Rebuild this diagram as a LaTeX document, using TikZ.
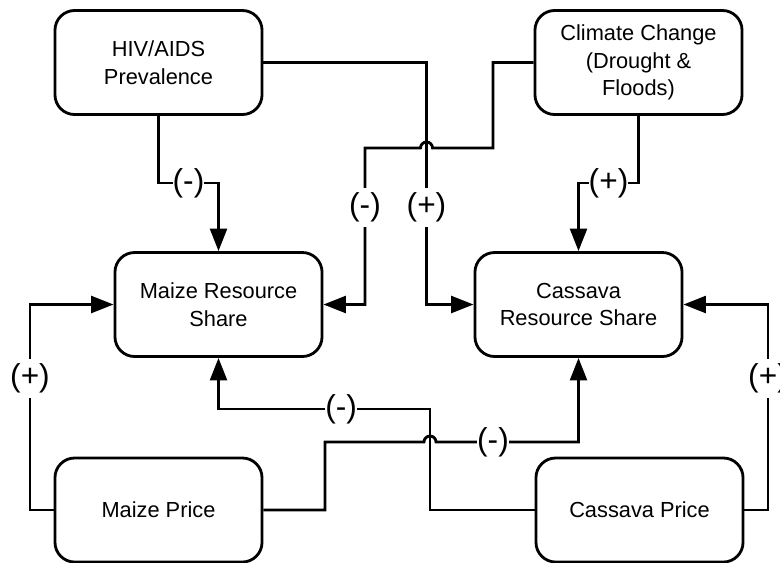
\documentclass[tikz,border=0pt]{standalone}
\usepackage{fontspec}
\setmainfont{Liberation Sans}
\usetikzlibrary{arrows.meta}

\begin{document}
\begin{tikzpicture}[x=0.025cm, y=-0.025cm,
  box/.style={draw=black, line width=2pt, rounded corners=14pt, minimum width=5.175cm, minimum height=2.6cm, align=center, font=\fontsize{15.5}{19.5}\selectfont},
  link/.style={line width=2pt, -{Triangle[length=16pt, width=12pt]}},
  sign/.style={fill=white, inner xsep=0pt, inner ysep=3.5pt, font=\fontsize{22.5}{27}\selectfont}]
  \useasboundingbox (0,0) rectangle (780,562);

  \node[box] (hiv) at (158.5,62.5) {HIV/AIDS\\Prevalence};
  \node[box] (clim) at (638.5,62.5) {Climate Change\\(Drought \&\\Floods)};
  \node[box] (mres) at (218.5,304.5) {Maize Resource\\Share};
  \node[box] (cres) at (578.5,304.5) {Cassava\\Resource Share};
  \node[box] (mprice) at (158.5,510) {Maize Price};
  \node[box] (cprice) at (639.5,510) {Cassava Price};

  % drivers from the top
  \draw[link] (hiv.south) -- ++(0,67) -| node[sign, pos=.25] {(-)} (mres.north);
  \draw[link] (clim.south) -- ++(0,67) -| node[sign, pos=.25] {(+)} (cres.north);
  \draw[link] (hiv.east) -| node[sign, pos=.8] {(+)} (426.5,304.5) -- (cres.west);
  \draw[link] (clim.west) -| (493,148) -- (432.5,148) arc[start angle=0, end angle=-180, radius=6]
    -- (365,148) |- node[sign, pos=.19] {(-)} (mres.east);

  % prices
  \draw[link] (mprice.west) -| node[sign, pos=.82] {(+)} (30,304.5) -- (mres.west);
  \draw[link] (cprice.east) -| node[sign, pos=.82] {(+)} (768,304.5) -- (cres.east);
  \draw[link] (cprice.west) -| (430,409) -| node[sign, pos=.21] {(-)} (mres.south);
  \draw[link] (mprice.east) -| (325,442) -- (424,442) arc[start angle=-180, end angle=0, radius=6]
    -| node[sign, pos=.2] {(-)} (cres.south);

\end{tikzpicture}
\end{document}
